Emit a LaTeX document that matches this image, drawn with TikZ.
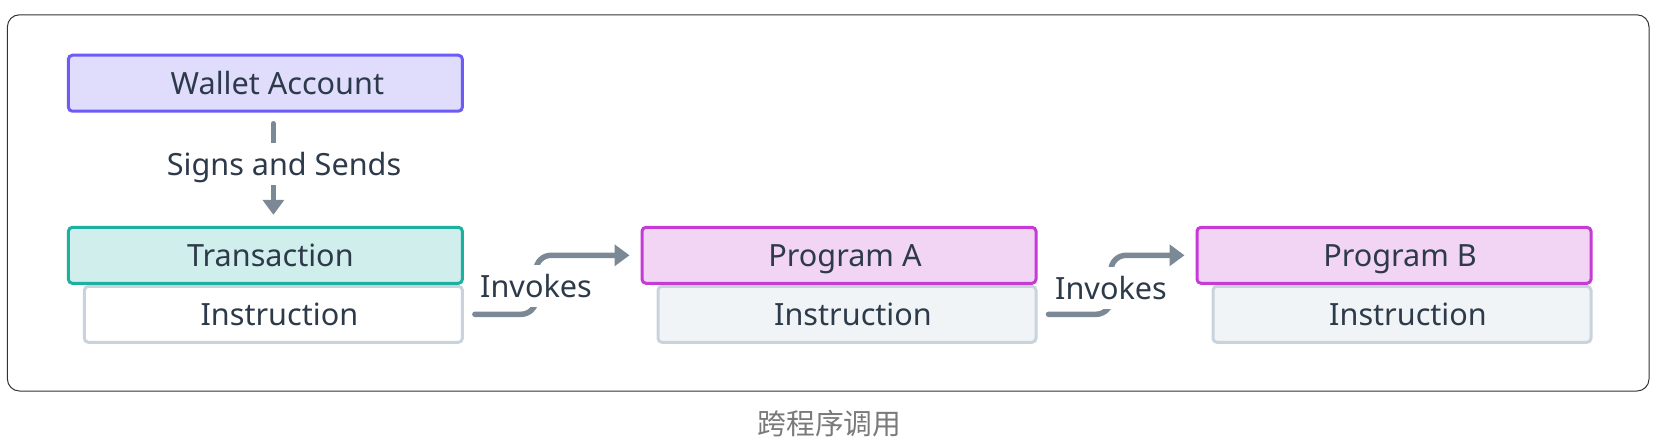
\documentclass[tikz,border=0pt]{standalone}
\usepackage{fontspec}
\setmainfont{Noto Sans}
\newfontfamily\cjk{Noto Sans CJK SC}
\usetikzlibrary{arrows.meta,positioning,backgrounds}
\definecolor{ink}{HTML}{2D3A4A}
\definecolor{wfill}{HTML}{DFDCFC}
\definecolor{wdraw}{HTML}{6C5BF5}
\definecolor{tfill}{HTML}{D0EEEC}
\definecolor{tdraw}{HTML}{1CB19E}
\definecolor{pfill}{HTML}{F2D5F4}
\definecolor{pdraw}{HTML}{C43BD6}
\definecolor{ifill}{HTML}{F0F4F7}
\definecolor{idraw}{HTML}{C8D3DD}
\definecolor{arr}{HTML}{7B8895}
\definecolor{capg}{HTML}{7A7A7A}
\tikzset{
  box/.style={line width=1.5pt,rounded corners=2pt,text=ink,inner sep=0pt,
    minimum width=197pt,minimum height=28pt,text height=11pt,text depth=0pt,
    font=\fontsize{15.3}{18}\selectfont},
  wbox/.style={box,draw=wdraw,fill=wfill},
  tbox/.style={box,draw=tdraw,fill=tfill},
  pbox/.style={box,draw=pdraw,fill=pfill},
  ibox/.style={box,draw=idraw,fill=ifill,minimum width=189pt},
  ar/.style={-{Triangle[length=7.5pt,width=10.5pt]},line width=2.75pt,draw=arr,
    line cap=round,shorten <=5.5pt,shorten >=5.5pt},
  lbl/.style={fill=white,text=ink,inner xsep=1pt,minimum height=21pt,
    text height=11pt,text depth=0pt,font=\fontsize{15.3}{18}\selectfont},
}
\begin{document}
\begin{tikzpicture}[x=0.5pt,y=-0.5pt]
  \useasboundingbox (0,0) rectangle (1661,447);
  \draw[black!80,line width=0.5pt,rounded corners=6pt] (7.4,14.8) rectangle (1649,391);

  % ---- top: wallet and transaction
  \node[wbox] (wa) at (265.4,83.2) {\hspace*{12pt}Wallet Account};
  \node[tbox] (tx) at (265.4,255.3) {\hspace*{5pt}Transaction};
  \begin{scope}[on background layer]
    \node[ibox,fill=white,below left=0pt and 0pt of tx.south east] (ti) {\hspace*{6pt}Instruction};
  \end{scope}
  \draw[ar] ([xshift=4pt]wa.south) -- ([xshift=4pt]tx.north);
  \node[lbl] (sg) at (284,164) {Signs and Sends};

  % ---- middle: program A
  \node[pbox] (pa) at (839,255.3) {\hspace*{6pt}Program A};
  \begin{scope}[on background layer]
    \node[ibox,below left=0pt and 0pt of pa.south east] (ai) {\hspace*{6pt}Instruction};
  \end{scope}
  \coordinate (v1) at (536,286);
  \draw[ar,rounded corners=7.5pt] (ti.east) -| (v1) |- (pa.west);
  \node[lbl] (k1) at (v1) {Invokes};

  % ---- right: program B
  \node[pbox] (pb) at (1394,255.3) {\hspace*{6pt}Program B};
  \begin{scope}[on background layer]
    \node[ibox,below left=0pt and 0pt of pb.south east] (bi) {\hspace*{6pt}Instruction};
  \end{scope}
  \coordinate (v2) at (1111,288);
  \draw[ar,rounded corners=7.5pt] (ai.east) -| (v2) |- (pb.west);
  \node[lbl] (k2) at (v2) {Invokes};

  \node[font=\cjk\fontsize{14.4}{17}\selectfont,text=capg] (cap) at (829.4,423.7) {跨程序调用};
\end{tikzpicture}
\end{document}
